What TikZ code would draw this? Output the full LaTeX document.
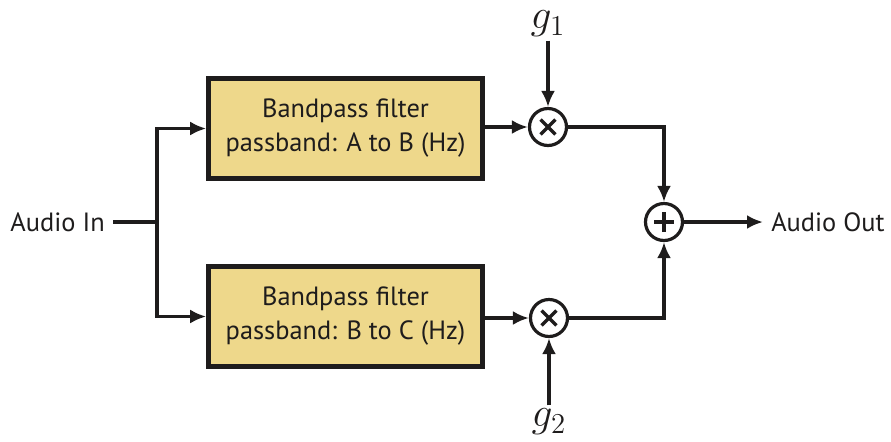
\documentclass[tikz,border=0pt]{standalone}
\usepackage{fontspec}
\setmainfont{PT Sans}
\usepackage{amsmath}
\usetikzlibrary{positioning}
\usetikzlibrary{arrows.meta}
\definecolor{bandfill}{RGB}{238,216,139}
\definecolor{ink}{RGB}{30,28,28}

\begin{document}
\begin{tikzpicture}[x=0.5pt, y=-0.5pt, line width=1.6pt, draw=ink,
    every node/.style={font=\fontsize{13.2}{17}\selectfont, text=ink},
    arr/.style={-{Latex[length=8pt, width=7pt]}},
    bpf/.style={draw, line width=2.3pt, fill=bandfill, align=center, minimum width=137pt, minimum height=50pt},
    gainlab/.style={font=\fontsize{20}{24}\selectfont, inner sep=1pt},
    mult/.style={circle, draw, minimum size=18.5pt, inner sep=0pt, path picture={
        \draw ([shift={(-3.7pt,-3.7pt)}]path picture bounding box.center) -- ([shift={(3.7pt,3.7pt)}]path picture bounding box.center);
        \draw ([shift={(-3.7pt,3.7pt)}]path picture bounding box.center) -- ([shift={(3.7pt,-3.7pt)}]path picture bounding box.center);}},
    adder/.style={circle, draw, minimum size=18.5pt, inner sep=0pt, path picture={
        \draw ([shift={(-5pt,0pt)}]path picture bounding box.center) -- ([shift={(5pt,0pt)}]path picture bounding box.center);
        \draw ([shift={(0pt,-5pt)}]path picture bounding box.center) -- ([shift={(0pt,5pt)}]path picture bounding box.center);}}]
    \useasboundingbox (0,0) rectangle (891,441);

    \node[anchor=east] (ain) at (113,222) {Audio In};
    \coordinate (split) at (157,222);
    \node[bpf] (bp1) at (345.5,128.5) {Bandpass filter\\passband: A to B (Hz)};
    \node[bpf] (bp2) at (345.5,316.5) {Bandpass filter\\passband: B to C (Hz)};

    \node[mult] (m1) at (548,127) {};
    \node[mult] (m2) at (549,318) {};
    \node[gainlab] (g1) at (548,24) {$g_1$};
    \node[gainlab] (g2) at (549,422) {$g_2$};

    \node[adder] (sum) at (664,222) {};
    \node[anchor=west] (aout) at (763,222) {Audio Out};

    % input split into both bands
    \draw (ain.east) -- (split);
    \draw[arr] (split) |- (bp1.west);
    \draw[arr] (split) |- (bp2.west);

    % gains
    \draw[arr] (bp1.east |- m1) -- (m1.west);
    \draw[arr] (bp2.east |- m2) -- (m2.west);
    \draw[arr] (g1.south) -- (m1.north);
    \draw[arr] (g2.north) -- (m2.south);

    % sum and output
    \draw[arr] (m1.east) -| (sum.north);
    \draw[arr] (m2.east) -| (sum.south);
    \draw[arr] (sum.east) -- (aout.west);
\end{tikzpicture}
\end{document}
